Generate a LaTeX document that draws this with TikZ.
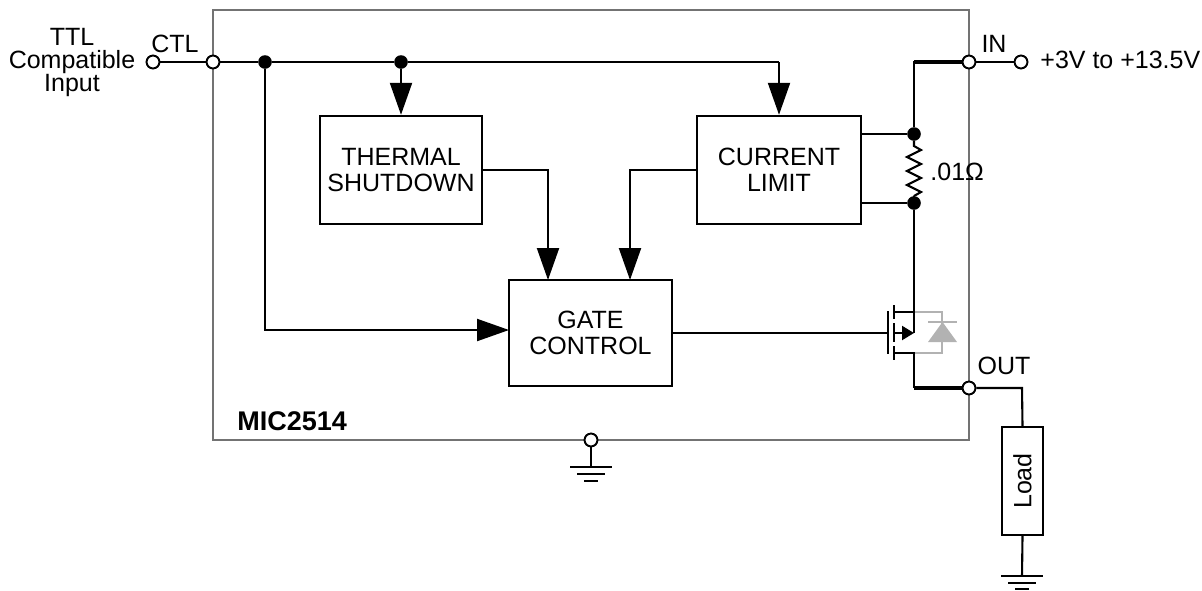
\documentclass[tikz,border=0pt]{standalone}
\usepackage{fontspec}
\setmainfont{Liberation Sans}
\usetikzlibrary{arrows.meta}
\begin{document}
\begin{tikzpicture}[x=0.5pt,y=-0.5pt,
  wire/.style={line width=1.05pt},
  heavywire/.style={line width=1.8pt},
  blk/.style={draw,line width=1.2pt,align=center,inner sep=0pt,
    font=\fontsize{12.5}{13}\selectfont},
  opin/.style={circle,draw,fill=white,line width=0.9pt,inner sep=0pt,minimum size=6.4pt},
  jdot/.style={circle,fill,inner sep=0pt,minimum size=6.8pt},
  arr/.style={-{Triangle[length=16pt,width=11pt]}},
  smallarr/.style={-{Triangle[length=6pt,width=7pt]}},
  lbl/.style={inner sep=0pt,font=\fontsize{12.5}{11.5}\selectfont},
  dio/.style={draw=black!30,line width=1pt},
]
\useasboundingbox (0,0) rectangle (1202,590);

% IC outline
\node[draw=black!55,line width=0.8pt,minimum width=378pt,minimum height=215pt,inner sep=0pt]
  (ic) at (591,225) {};

% blocks
\node[blk,minimum width=81pt,minimum height=54pt] (ts) at (401,170) {THERMAL\\SHUTDOWN};
\node[blk,minimum width=82pt,minimum height=54pt] (cl) at (779,170) {CURRENT\\LIMIT};
\node[blk,minimum width=81.5pt,minimum height=53pt] (gc) at (590.5,333) {GATE\\CONTROL};

% pins and junctions
\node[opin] (inp) at (153,62) {};
\node[opin] (ctl) at (213,62) {};
\node[jdot] (j1) at (265,62) {};
\node[jdot] (j2) at (401,62) {};
\node[opin] (vin) at (969,62) {};
\node[opin] (vext) at (1021,62) {};
\node[jdot] (r1) at (914,134) {};
\node[jdot] (r2) at (914,203) {};
\node[opin] (out) at (969,388) {};
\node[opin] (gnd) at (591,440) {};

\coordinate (c1) at (779,62);
\coordinate (g1) at (548,280);
\coordinate (g2) at (630,280);
\coordinate (g3) at (509,330);
\coordinate (gate) at (888,333);
\coordinate (dtop) at (914,62);
\coordinate (sbot) at (914,388);
\coordinate (lt) at (1022,388);

% load
\node[draw,line width=1pt,minimum width=20.5pt,minimum height=54pt,inner sep=0pt] (load) at (1022.5,481) {};
\node[lbl,rotate=90] (loadt) at (1022.5,481) {Load};

% control wiring
\draw[wire] (inp) -- (ctl) -- (j1) -- (j2) -- (c1);
\draw[wire,arr] (c1) -- (cl.north);
\draw[wire,arr] (j2) -- (ts.north);
\draw[wire,arr] (j1) |- (g3);
\draw[wire,arr] (ts.east) -| (g1);
\draw[wire,arr] (cl.west) -| (g2);
\draw[wire] (gc.east) -- (gate);

% supply path
\draw[heavywire] (vin) -- (dtop);
\draw[wire] (vin) -- (vext);
\draw[wire] (914,61) -- (r1);
\draw[wire] (r1) -- (cl.east |- r1);
\draw[wire] (r2) -- (cl.east |- r2);
\draw[wire] (r1) -- (914,146) -- (921,150) -- (907,157) -- (921,164) -- (907,171)
  -- (921,178) -- (907,185) -- (921,192) -- (914,196) -- (r2);

% diode (gray)
\draw[dio] (914,312) -- (942,312) -- (942,353) -- (914,353);
\fill[black!30] (928,342) -- (957,342) -- (942.5,322) -- cycle;
\draw[dio,line width=1.2pt] (928,322) -- (957,322);

% MOSFET
\draw[wire] (r2) |- (894,312);
\draw[wire] (914,312) -- (914,333);
\draw[line width=1.2pt] (888,311) -- (888,354);
\draw[line width=1.2pt] (894,305) -- (894,319);
\draw[line width=1.2pt] (894,323) -- (894,342);
\draw[line width=1.2pt] (894,346) -- (894,360);
\draw[wire,smallarr] (894,333) -- (914,333);
\draw[wire] (894,353) -- (914,353) -- (sbot);
\draw[heavywire] (913.5,388) -- (out);
\draw[wire] (out) -- (lt) -- (load.north);

% redraw pins on top
\node[opin] at (vin) {};
\node[opin] at (out) {};
\node[opin] at (ctl) {};
\node[opin] at (inp) {};
\node[opin] at (vext) {};

% grounds
\coordinate (gg) at (591,467);
\draw[wire] (gnd) -- (gg);
\draw[wire] (570,467) -- (612,467);
\draw[wire] (577,474) -- (605,474);
\draw[wire] (584,481) -- (598,481);
\node[opin] at (gnd) {};

\coordinate (lg) at (1022,576);
\draw[wire] (load.south) -- (lg);
\draw[wire] (1001,576) -- (1043,576);
\draw[wire] (1008,583) -- (1036,583);
\draw[wire] (1015,589) -- (1029,589);

% labels
\node[lbl,align=center] (ttl) at (72,62) {TTL\\Compatible\\Input};
\node[lbl] (ctlt) at (175,44) {CTL};
\node[lbl] (int) at (994,44) {IN};
\node[lbl,anchor=west] (vt) at (1040,60) {+3V to +13.5V};
\node[lbl,anchor=west] (rt) at (930,172) {.01Ω};
\node[lbl] (outt) at (1004,366) {OUT};
\node[lbl,font=\fontsize{13.5}{13}\selectfont\bfseries,anchor=west] (mic) at (237,421) {MIC2514};
\end{tikzpicture}
\end{document}
